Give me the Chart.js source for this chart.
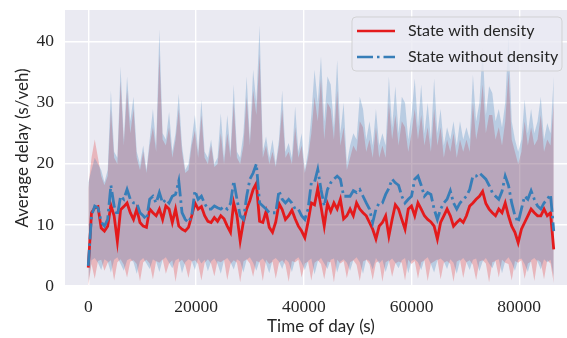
<!DOCTYPE html>
<html><head><meta charset="utf-8">
<script src="https://cdn.jsdelivr.net/npm/chart.js@4.4.0/dist/chart.umd.min.js"></script>
<style>html,body{margin:0;padding:0;background:#fff;overflow:hidden;width:567px;height:338px}canvas{display:block}</style>
</head><body><canvas id="c" width="577" height="338"></canvas>
<script>
// ---- data ----
const STEP_S = 600;                       // sampling step of the time axis (s)
const X_TICKS = [0, 20000, 40000, 60000, 80000];
const Y_TICKS = [0, 10, 20, 30, 40];
const SERIES_LABELS = ['State with density', 'State without density'];

const RED_MEAN = [
  3.0, 12.0, 12.8, 13.0, 9.5, 9.0, 9.8, 13.2, 11.5, 7.3,
  12.5, 13.0, 13.6, 12.0, 10.9, 12.6, 10.4, 9.8, 9.6, 12.6,
  12.0, 11.5, 12.6, 10.9, 13.1, 12.6, 10.4, 12.6, 9.8, 9.3,
  9.0, 9.6, 11.5, 13.6, 12.6, 13.0, 11.5, 10.6, 10.4, 11.2,
  10.6, 11.5, 11.0, 9.8, 8.8, 13.6, 11.5, 7.4, 10.5, 12.6,
  14.0, 15.8, 16.8, 10.6, 10.4, 12.2, 9.6, 8.8, 10.5, 13.5,
  12.5, 10.9, 11.5, 12.4, 11.0, 9.8, 9.0, 7.9, 10.5, 13.6,
  13.3, 16.0, 13.0, 9.8, 13.5, 12.2, 13.6, 12.6, 14.2, 11.0,
  11.5, 12.6, 11.5, 13.6, 12.6, 12.0, 11.5, 10.4, 9.3, 7.7,
  9.8, 10.4, 11.5, 8.2, 10.9, 13.3, 12.6, 10.9, 9.3, 12.6,
  13.1, 11.5, 13.6, 12.6, 11.5, 10.9, 10.5, 9.8, 7.7, 10.4,
  11.5, 12.6, 11.5, 9.8, 10.4, 10.9, 10.4, 11.5, 13.1, 13.6,
  14.2, 14.7, 15.5, 13.5, 12.6, 12.0, 11.5, 12.6, 12.0, 13.6,
  11.5, 9.8, 8.8, 7.1, 9.3, 10.4, 11.5, 12.6, 12.0, 11.5,
  11.5, 12.6, 11.5, 12.0, 6.0
];
const BLUE_MEAN = [
  3.3, 11.5, 13.1, 12.8, 10.5, 9.8, 10.9, 16.5, 13.1, 11.5,
  14.7, 14.2, 15.8, 14.2, 13.6, 13.6, 12.0, 11.5, 10.9, 14.2,
  14.7, 13.6, 15.3, 13.6, 14.2, 13.6, 14.7, 15.0, 17.2, 12.0,
  10.9, 10.4, 11.5, 15.6, 14.2, 14.7, 13.5, 12.6, 12.6, 13.1,
  12.8, 12.6, 13.0, 12.6, 13.5, 17.2, 14.2, 11.5, 10.9, 14.7,
  17.5, 18.5, 20.0, 13.6, 13.1, 12.6, 12.0, 12.0, 12.0, 15.6,
  14.2, 13.6, 14.2, 13.6, 12.6, 12.6, 11.5, 10.9, 12.6, 16.9,
  17.0, 19.1, 15.8, 13.1, 15.8, 16.9, 17.5, 18.0, 17.5, 14.7,
  14.7, 14.7, 15.6, 15.3, 15.8, 14.7, 13.6, 12.6, 10.4, 12.6,
  13.6, 13.6, 15.0, 16.0, 17.5, 16.9, 16.5, 14.7, 13.6, 14.2,
  14.7, 17.5, 18.0, 16.5, 14.7, 15.3, 15.0, 12.6, 10.9, 12.6,
  13.6, 14.2, 15.6, 13.6, 12.6, 13.6, 14.2, 14.7, 15.8, 18.0,
  18.0, 18.5, 18.0, 17.5, 16.5, 15.3, 14.7, 14.2, 15.5, 18.0,
  16.5, 13.6, 11.5, 10.4, 12.6, 14.7, 14.2, 15.6, 14.2, 13.1,
  12.6, 13.6, 14.2, 15.0, 9.0
];
const RED_UPPER = [
  16, 21, 24, 21, 18, 16.5, 18, 29, 21, 20,
  33.5, 23, 32, 25, 29, 21, 19, 22, 18.5, 23,
  26, 22, 38, 24, 23, 26, 21, 24, 29, 22,
  18.5, 19, 23, 25.5, 21, 28, 21, 20, 23, 19.5,
  20, 25, 20, 25, 21, 30, 21, 20, 23, 31,
  23, 32, 28, 38, 21, 23, 20, 22, 19.5, 23,
  29, 21, 22, 20, 26, 21, 23, 18.5, 21, 25,
  31, 27, 34, 24, 30, 29, 24, 32, 23, 26,
  19, 21, 23, 22, 27, 26, 22, 24, 21, 26,
  21, 23, 21, 30, 24, 28, 23, 27, 26, 22,
  25, 29, 24, 28, 23, 26, 22, 29, 23, 26,
  21, 24, 22, 25, 21, 24, 22, 24, 22, 30,
  24, 27, 33, 25, 28, 28, 24, 26, 23, 27,
  35, 24, 22, 20, 22, 27, 23, 26, 23, 24,
  28, 22, 24, 23, 30
];
const RED_LOWER = [
  0.0, 3.6, 1.2, 4.1, 4.3, 2.5, 3.8, 4.2, 0.9, 3.9,
  4.4, 3.5, 1.4, 4.0, 4.2, 3.6, 0.8, 3.9, 4.3, 3.7,
  1.1, 4.1, 3.8, 4.4, 2.0, 3.7, 4.2, 0.7, 3.9, 4.3,
  3.5, 1.3, 4.0, 4.2, 3.6, 0.9, 3.8, 4.4, 3.7, 1.6,
  4.1, 3.9, 4.3, 1.0, 3.6, 4.2, 3.8, 0.6, 4.0, 4.4,
  3.7, 1.5, 4.1, 3.9, 0.8, 4.3, 3.6, 4.0, 1.2, 3.8,
  4.2, 3.5, 0.7, 4.1, 3.9, 4.3, 1.4, 3.7, 4.0, 0.9,
  3.8, 4.2, 3.6, 1.1, 4.0, 3.9, 0.6, 4.3, 3.7, 4.1,
  1.3, 3.9, 4.2, 3.5, 0.8, 4.0, 4.3, 3.6, 1.0, 3.8,
  4.1, 0.7, 3.9, 4.2, 1.5, 3.7, 4.0, 3.8, 0.9, 4.3,
  3.6, 4.1, 1.2, 3.9, 4.2, 0.8, 3.7, 4.0, 4.4, 1.1,
  3.8, 4.1, 3.6, 0.7, 4.0, 4.3, 1.3, 3.9, 4.2, 3.5,
  1.0, 4.0, 4.2, 3.7, 0.6, 3.9, 4.1, 1.4, 4.3, 3.8,
  3.6, 0.9, 4.1, 3.8, 4.2, 1.2, 3.7, 4.0, 0.8, 4.3,
  3.9, 1.1, 4.2, 3.7, 0.5
];
const BLUE_UPPER = [
  17, 19, 21, 20, 19, 17, 19, 32, 22, 21,
  35.9, 24, 34.3, 27, 31, 22, 20, 23, 19, 24,
  29, 23, 42, 25, 24, 28.5, 22, 25, 31.5, 23,
  19, 20, 24, 28, 22, 30.5, 22, 21, 24, 20,
  21, 28.3, 21, 28, 22, 33, 22, 21, 25, 34.3,
  24, 35.4, 30, 42.7, 22, 24.5, 21, 24, 20, 24,
  32, 22, 23.4, 21, 29.4, 22, 25, 19, 22, 28,
  35.4, 30, 37.6, 27, 34.3, 33, 26, 37, 25, 30,
  20, 23, 25, 24, 31, 29, 24, 27, 23, 29,
  23, 25, 23, 34.3, 26, 32.7, 25, 31, 30, 24,
  28, 34, 26, 33, 25, 30, 24, 34, 25, 29,
  23, 26, 24, 27, 23, 27, 24, 26, 24, 34.6,
  27, 30, 39, 28, 32.7, 31.6, 27, 29, 26, 30,
  41, 27, 24, 22, 24, 30.5, 25, 29, 25, 27,
  31, 24, 26.7, 25, 34.3
];
const BLUE_LOWER = [
  0.5, 4.2, 4.6, 3.8, 2.6, 4.4, 4.0, 2.2, 4.3, 4.7,
  3.6, 2.5, 4.2, 4.5, 3.9, 2.0, 4.1, 4.6, 3.7, 2.8,
  4.4, 4.0, 2.3, 4.3, 4.7, 3.8, 2.9, 4.2, 4.5, 2.1,
  3.9, 4.4, 4.1, 2.6, 4.6, 3.7, 4.3, 2.4, 4.0, 4.5,
  3.6, 2.0, 4.2, 4.6, 3.9, 2.7, 4.4, 4.0, 2.2, 4.3,
  4.7, 3.8, 2.5, 4.1, 4.5, 3.7, 2.1, 4.2, 4.6, 4.0,
  2.8, 4.4, 3.9, 2.3, 4.3, 4.7, 3.8, 2.6, 4.1, 4.5,
  1.9, 4.0, 4.6, 3.7, 2.8, 4.3, 4.5, 2.2, 4.0, 4.4,
  3.8, 2.5, 4.2, 4.7, 3.9, 2.0, 4.4, 4.1, 2.7, 4.6,
  3.7, 4.3, 2.3, 4.0, 4.5, 3.8, 2.9, 4.2, 4.6, 2.1,
  4.1, 4.4, 3.9, 2.6, 4.3, 4.7, 3.6, 2.2, 4.2, 4.5,
  4.0, 2.8, 4.4, 3.8, 2.0, 4.1, 4.6, 3.9, 2.6, 4.3,
  4.5, 2.4, 4.0, 4.6, 3.7, 2.9, 4.2, 4.4, 2.1, 4.1,
  4.7, 3.8, 2.5, 4.3, 4.5, 3.6, 2.3, 4.2, 4.6, 4.0,
  2.7, 4.4, 3.9, 4.3, 1.5
];

// ---- build chart from the arrays ----
const TIMES = RED_MEAN.map((_, i) => i * STEP_S);
const pts = arr => arr.map((v, i) => ({ x: TIMES[i], y: v }));

const RED = '#e41a1c', BLUE = '#377eb8';
const RED_FILL = 'rgba(228,26,28,0.25)', BLUE_FILL = 'rgba(55,126,184,0.27)';
const BLUE_DASH = [16, 4, 2.5, 4];
const TXT = '#262626';
const SANS = 'Lato, "DejaVu Sans", sans-serif';
const SERIF = '"Liberation Serif", "DejaVu Serif", serif';

const bandDs = (arr, extra) => Object.assign({
  data: pts(arr), borderWidth: 0, borderColor: 'rgba(0,0,0,0)', pointRadius: 0, tension: 0, inLegend: false
}, extra);

const bgPlugin = {
  id: 'areaBg',
  beforeDraw(chart) {
    const { ctx, chartArea: a } = chart;
    ctx.save();
    ctx.fillStyle = '#EAEAF2';
    ctx.fillRect(a.left, a.top, a.right - a.left, a.bottom - a.top);
    ctx.restore();
  }
};

const legendPlugin = {
  id: 'insideLegend',
  afterDraw(chart, args, opts) {
    const ctx = chart.ctx;
    const items = chart.data.datasets.filter(d => d.inLegend).sort((a, b) => a.legendRank - b.legendRank);
    const { x, y, w, h, r, rowH, firstRow, lineX0, lineX1, textX } = opts;
    ctx.save();
    ctx.beginPath();
    ctx.moveTo(x + r, y); ctx.lineTo(x + w - r, y); ctx.quadraticCurveTo(x + w, y, x + w, y + r);
    ctx.lineTo(x + w, y + h - r); ctx.quadraticCurveTo(x + w, y + h, x + w - r, y + h);
    ctx.lineTo(x + r, y + h); ctx.quadraticCurveTo(x, y + h, x, y + h - r);
    ctx.lineTo(x, y + r); ctx.quadraticCurveTo(x, y, x + r, y); ctx.closePath();
    ctx.fillStyle = 'rgba(234,234,242,0.8)';
    ctx.fill();
    ctx.strokeStyle = 'rgba(204,204,204,0.8)';
    ctx.lineWidth = 1;
    ctx.stroke();
    items.forEach((d, k) => {
      const yy = y + firstRow + k * rowH;
      ctx.beginPath();
      ctx.setLineDash(d.borderDash || []);
      ctx.lineWidth = 2.6;
      ctx.strokeStyle = d.borderColor;
      ctx.lineCap = 'butt';
      ctx.moveTo(lineX0, yy); ctx.lineTo(lineX1, yy);
      ctx.stroke();
      ctx.setLineDash([]);
      ctx.fillStyle = TXT;
      ctx.font = '16px ' + SANS;
      ctx.textBaseline = 'middle';
      ctx.textAlign = 'left';
      ctx.fillText(d.label, textX, yy);
    });
    ctx.restore();
  }
};

new Chart(document.getElementById('c'), {
  type: 'line',
  data: {
    datasets: [
      { label: SERIES_LABELS[1], data: pts(BLUE_MEAN), borderColor: BLUE, borderWidth: 2.8,
        borderDash: BLUE_DASH, pointRadius: 0, tension: 0, fill: false, order: 0, inLegend: true, legendRank: 1 },
      { label: SERIES_LABELS[0], data: pts(RED_MEAN), borderColor: RED, borderWidth: 2.8,
        pointRadius: 0, tension: 0, fill: false, order: 1, inLegend: true, legendRank: 0 },
      bandDs(BLUE_LOWER, { label: 'blue lower', fill: false, order: 2 }),
      bandDs(BLUE_UPPER, { label: 'blue upper', fill: 2, backgroundColor: BLUE_FILL, order: 2 }),
      bandDs(RED_LOWER, { label: 'red lower', fill: false, order: 3 }),
      bandDs(RED_UPPER, { label: 'red upper', fill: 4, backgroundColor: RED_FILL, order: 3 })
    ]
  },
  options: {
    responsive: false,
    animation: false,
    devicePixelRatio: 1,
    layout: { padding: { top: 10, left: 0, right: 0, bottom: 0 } },
    plugins: {
      legend: { display: false },
      tooltip: { enabled: false },
      insideLegend: { x: 352, y: 17, w: 210, h: 54, r: 4, rowH: 26, firstRow: 14, lineX0: 357, lineX1: 395, textX: 408 }
    },
    scales: {
      x: {
        type: 'linear', min: -4320, max: 90720,
        afterFit: s => { s.height = 52; s.paddingLeft = 0; s.paddingRight = 0; },
        afterBuildTicks: s => { s.ticks = X_TICKS.map(v => ({ value: v })); },
        ticks: { font: { family: SERIF, size: 17.5 }, color: TXT, padding: 11, maxRotation: 0,
                 callback: v => String(v) },
        grid: { color: '#ffffff', lineWidth: 1.4, drawTicks: false },
        border: { display: false },
        title: { display: true, text: 'Time of day (s)', font: { family: SANS, size: 17 }, color: TXT,
                 padding: { top: 0, bottom: 1 } }
      },
      y: {
        type: 'linear', min: 0, max: 45.2,
        afterFit: s => { s.width = 65; s.paddingTop = 0; s.paddingBottom = 0; },
        afterBuildTicks: s => { s.ticks = Y_TICKS.map(v => ({ value: v })); },
        ticks: { font: { family: SERIF, size: 17.5 }, color: TXT, padding: 11, callback: v => String(v) },
        grid: { color: '#ffffff', lineWidth: 1.4, drawTicks: false },
        border: { display: false },
        title: { display: true, text: 'Average delay (s/veh)', font: { family: SANS, size: 17 }, color: TXT,
                 padding: { top: 12, bottom: 0 } }
      }
    }
  },
  plugins: [bgPlugin, legendPlugin]
});
</script>
</body></html>
